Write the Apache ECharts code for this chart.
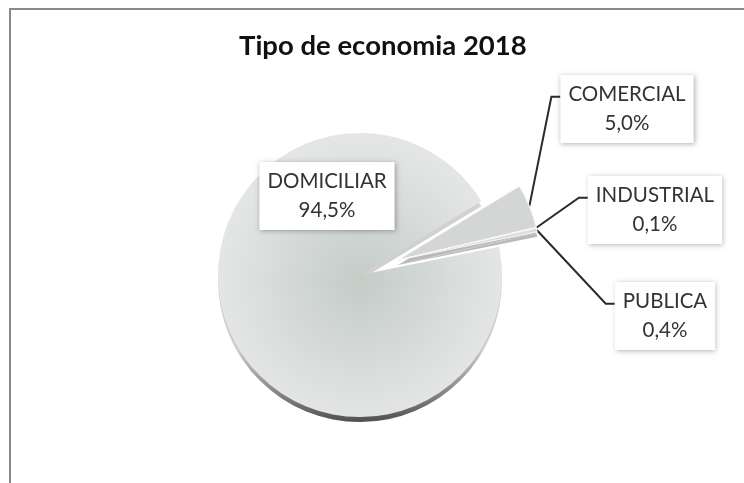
<!DOCTYPE html>
<html>
<head>
<meta charset="utf-8">
<title>Tipo de economia 2018</title>
<script src="https://cdn.jsdelivr.net/npm/echarts@6/dist/echarts.min.js"></script>
<style>
html, body { margin: 0; padding: 0; background: #fff; }
#chart { width: 744px; height: 483px; }
</style>
</head>
<body>
<div id="chart"></div>
<script>
// datos del grafico
var categorias = ['DOMICILIAR', 'COMERCIAL', 'INDUSTRIAL', 'PUBLICA'];
var valores = [94.5, 5.0, 0.1, 0.4];
var titulo = 'Tipo de economia 2018';

var chart = echarts.init(document.getElementById('chart'));

var FONT = 'Lato, "Open Sans", "Noto Sans", sans-serif';
var centro = [360, 275];
var radio = 142;
var inicio = 11.5;
var sep = [38, -15];   // porciones separadas
var grosor = 5;        // efecto 3D

// centro de cada caja de etiqueta
var cajas = [[327, 196], [627, 109], [655, 210], [665, 316]];

var caraDom = new echarts.graphic.RadialGradient(0.5, 0.52, 0.5, [
    { offset: 0, color: '#c4ccc8' },
    { offset: 1, color: '#e4e6e5' }
]);
var ladoDom = new echarts.graphic.LinearGradient(0, 0, 0, 1, [
    { offset: 0, color: '#d4d4d4' },
    { offset: 0.74, color: '#cdcdcd' },
    { offset: 0.9, color: '#858585' },
    { offset: 1, color: '#505050' }
]);
var caraOtros = ['#d3d6d5', '#efefef', '#dcdcdc'];

function fmtPct(p) {
    return p.toFixed(1).replace('.', ',') + '%';
}

function datos(grupo, capa) {
    // grupo 'A' = DOMICILIAR, 'B' = porciones separadas
    return categorias.map(function (nombre, i) {
        var mio = (grupo === 'A') ? (i === 0) : (i > 0);
        var color = 'rgba(0,0,0,0)';
        if (mio) {
            if (capa === 'lado') color = (i === 0) ? ladoDom : '#bababa';
            else color = (i === 0) ? caraDom : caraOtros[i - 1];
        }
        return {
            name: nombre,
            value: valores[i],
            itemStyle: {
                color: color,
                borderColor: (mio && grupo === 'B' && capa === 'cara') ? '#f7f7f7' : 'rgba(0,0,0,0)',
                borderWidth: (mio && grupo === 'B') ? 1 : 0
            },
            label: {
                show: mio && capa === 'cara',
                position: i === 0 ? 'inside' : 'outside'
            },
            labelLine: { show: mio && capa === 'cara' && i > 0 }
        };
    });
}

function ubicar(p) {
    var c = cajas[p.dataIndex];
    var r = p.labelRect;
    var out = { x: c[0], y: c[1], align: 'center', verticalAlign: 'middle' };
    if (p.labelLinePoints && p.dataIndex > 0) {
        var izq = c[0] - r.width / 2;
        var yl = c[1] - r.height * 0.18;
        out.labelLinePoints = [p.labelLinePoints[0], [izq - 9, yl], [izq, yl]];
    }
    return out;
}

function serie(grupo, capa) {
    var cx = centro[0] + (grupo === 'B' ? sep[0] : 0);
    var cy = centro[1] + (grupo === 'B' ? sep[1] : 0) + (capa === 'lado' ? grosor : 0);
    return {
        type: 'pie',
        silent: true,
        center: [cx, cy],
        radius: [0, radio],
        startAngle: inicio,
        clockwise: true,
        avoidLabelOverlap: false,
        animation: false,
        emphasis: { disabled: true },
        label: {
            formatter: function (p) { return p.name + '\n' + fmtPct(p.percent); },
            color: '#333333',
            fontFamily: FONT,
            fontSize: 20.5,
            lineHeight: 29,
            align: 'center',
            backgroundColor: '#ffffff',
            padding: [5, 8],
            shadowColor: 'rgba(0,0,0,0.3)',
            shadowBlur: 5,
            shadowOffsetX: 1,
            shadowOffsetY: 1
        },
        labelLine: {
            length: 10,
            length2: 10,
            lineStyle: { color: '#2a2a2a', width: 2 }
        },
        labelLayout: ubicar,
        data: datos(grupo, capa)
    };
}

var option = {
    backgroundColor: '#ffffff',
    title: {
        text: titulo,
        left: 239,
        top: 32,
        padding: 0,
        textStyle: {
            fontFamily: FONT,
            fontSize: 27.5,
            fontWeight: 'bold',
            color: '#111111'
        }
    },
    graphic: [{
        type: 'rect',
        silent: true,
        z: -10,
        shape: { x: 10, y: 9, width: 780, height: 520 },
        style: { fill: 'none', stroke: '#8a8a8a', lineWidth: 2 }
    }],
    series: [
        serie('A', 'lado'),
        serie('A', 'cara'),
        serie('B', 'lado'),
        serie('B', 'cara')
    ]
};

chart.setOption(option);
</script>
</body>
</html>
